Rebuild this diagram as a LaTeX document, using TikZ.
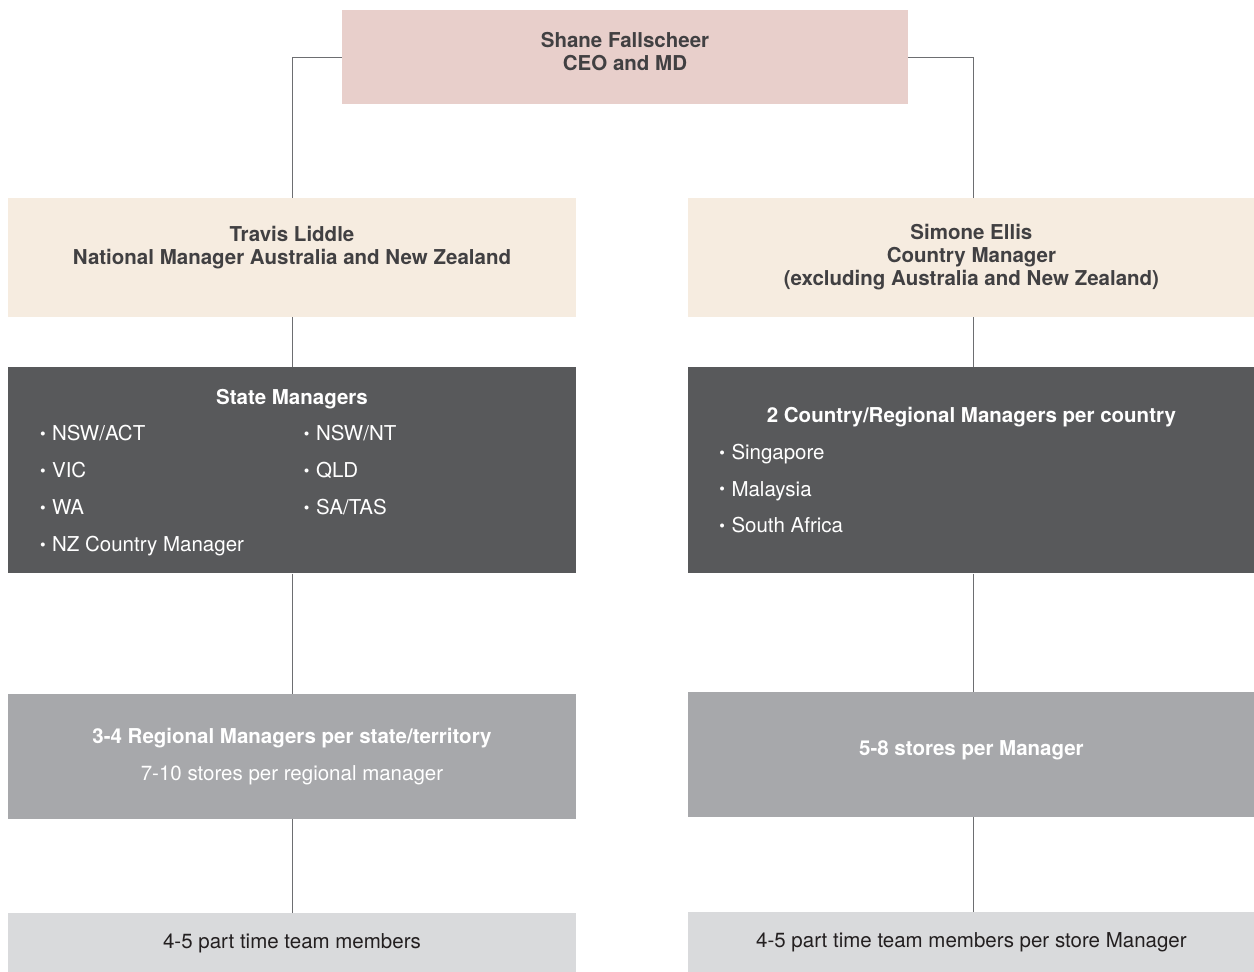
\documentclass[tikz,border=0pt]{standalone}
\usepackage{fontspec}
\setmainfont{TeX Gyre Heros}
\usetikzlibrary{positioning}

\definecolor{ceofill}{HTML}{E8CFCB}
\definecolor{headfill}{HTML}{F6ECE0}
\definecolor{darkfill}{HTML}{58595B}
\definecolor{midfill}{HTML}{A7A8AB}
\definecolor{lightfill}{HTML}{D9DADC}
\definecolor{headtext}{HTML}{414042}
\definecolor{basetext}{HTML}{231F20}
\definecolor{linegray}{HTML}{6D6E71}
\renewcommand{\arraystretch}{1.6}
\newcommand{\bul}{\raisebox{1.2pt}{\fontsize{16}{16}\selectfont•}\hspace{6.5pt}}

\begin{document}
\begin{tikzpicture}[x=1pt, y=1pt, node distance=50pt,
    box/.style={rectangle, inner sep=0pt, align=center, font=\fontsize{20.5}{23}\selectfont},
    leftbox/.style={box, minimum width=568pt},
    rightbox/.style={box, minimum width=566pt},
    link/.style={draw=linegray, line width=0.9pt}]
  \useasboundingbox (0,0) rectangle (1254,972);

    % Top box
    \node [box, fill=ceofill, text=headtext, minimum width=566pt, minimum height=94pt] (ceo) at (625,915) {\textbf{Shane Fallscheer}\\\textbf{CEO and MD}\\[-19pt]\strut};

    % Second row
    \node [leftbox, fill=headfill, text=headtext, minimum height=119pt] (travis) at (292,714.5) {\textbf{Travis Liddle}\\\textbf{National Manager Australia and New Zealand}\\[-6pt]\strut};
    \node [rightbox, fill=headfill, text=headtext, minimum height=119pt, right=112pt of travis] (simone) {\textbf{Simone Ellis}\\\textbf{Country Manager}\\\textbf{(excluding Australia and New Zealand)}};

    % Managers
    \node [leftbox, fill=darkfill, text=white, minimum height=206pt, below=50pt of travis] (state) {%
      \begin{tabular}{@{}p{252pt}p{240pt}@{}}
        \multicolumn{2}{c}{\textbf{State Managers}}\\
        \bul NSW/ACT & \bul NSW/NT\\
        \bul VIC & \bul QLD\\
        \bul WA & \bul SA/TAS\\
        \bul NZ Country Manager &
      \end{tabular}};
    \node [rightbox, fill=darkfill, text=white, minimum height=206pt, below=50pt of simone] (country) {%
      \begin{tabular}{@{}p{504pt}@{}}
        \multicolumn{1}{c}{\textbf{2 Country/Regional Managers per country}}\\
        \bul Singapore\\
        \bul Malaysia\\
        \bul South Africa
      \end{tabular}};

    % Regions and stores
    \node [leftbox, fill=midfill, text=white, minimum height=125pt, below=120pt of state] (regional) {\textbf{3-4 Regional Managers per state/territory}\\[14pt]7-10 stores per regional manager};
    \node [rightbox, fill=midfill, text=white, minimum height=125pt, below=118pt of country] (stores) {\textbf{5-8 stores per Manager}\\[-17pt]\strut};

    % Team members
    \node [leftbox, fill=lightfill, text=basetext, minimum height=60pt, below=94pt of regional] (teamleft) {4-5 part time team members};
    \node [rightbox, fill=lightfill, text=basetext, minimum height=61pt, below=95pt of stores] (teamright) {4-5 part time team members per store Manager};

    % Connecting lines
    \draw [link] (ceo.west) -| (travis.north);
    \draw [link] (ceo.east) -| ([xshift=2pt]simone.north);
    \draw [link] (travis) -- (state);
    \draw [link] ([xshift=2pt]simone.south) -- ([xshift=2pt]country.north);
    \draw [link] (state) -- (regional);
    \draw [link] ([xshift=2pt]country.south) -- ([xshift=2pt]stores.north);
    \draw [link] (regional) -- (teamleft);
    \draw [link] ([xshift=2pt]stores.south) -- ([xshift=2pt]teamright.north);

\end{tikzpicture}
\end{document}
